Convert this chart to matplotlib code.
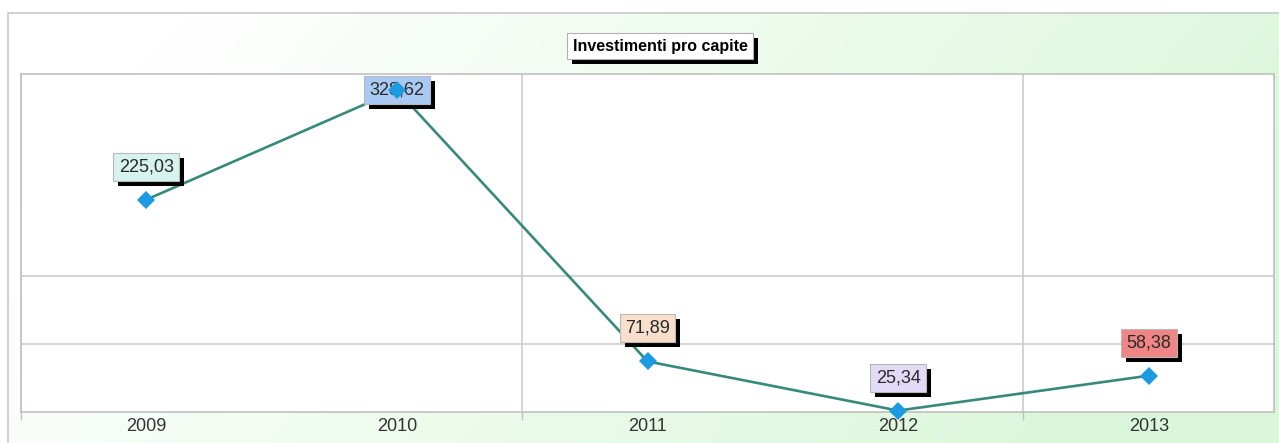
import matplotlib
matplotlib.use("Agg")
import matplotlib.pyplot as plt
import matplotlib.patheffects as pe
import numpy as np

plt.rcParams['font.family'] = ['Liberation Sans', 'DejaVu Sans']

# Data
years = ["2009", "2010", "2011", "2012", "2013"]
values = [225.03, 328.62, 71.89, 25.34, 58.38]
value_labels = ["225,03", "328,62", "71,89", "25,34", "58,38"]
label_colors = ["#d6f3ef", "#a9c9f2", "#f7dfcc", "#e1dbf7", "#f08585"]
title = "Investimenti pro capite"

W, H = 1279, 443
fig = plt.figure(figsize=(W / 100, H / 100), dpi=100)
fig.patch.set_facecolor("white")

# background panel with soft white -> green gradient
bg = fig.add_axes([0, 0, 1, 1], zorder=-5)
bg.set_xlim(0, W)
bg.set_ylim(H, 0)
bg.axis("off")
gx = np.linspace(0, 1, 300)
gy = np.linspace(0, 1, 120)
GX, GY = np.meshgrid(gx, gy)
t = np.clip(1.05 * GX + 0.3 * GY - 0.15, 0, 1)
white = np.array([1.0, 1.0, 1.0])
green = np.array([0.86, 0.97, 0.86])
img = white[None, None, :] * (1 - t[..., None]) + green[None, None, :] * t[..., None]
bg.imshow(img, extent=[8, W, H, 13], aspect="auto", interpolation="bilinear")
bg.plot([8, 8, W], [H, 13, 13], color="#c8c8c8", lw=1.2)

# plot area
ax = fig.add_axes([21 / W, 31 / H, 1253 / W, 338 / H])
ax.set_facecolor("white")
x = np.arange(len(years))
ax.set_xlim(-0.5, len(years) - 0.5)
ax.set_ylim(24, 344)

ax.set_xticks(x)
ax.set_xticklabels(years, fontsize=13, color="#333333")
ax.set_xticks([-0.5, 1.5, 3.5], minor=True)
ax.tick_params(axis="x", which="major", length=0, pad=4)
ax.tick_params(axis="x", which="minor", length=6, direction="out", color="#c0c0c0", width=1)
ax.set_yticks([88.5, 153])
ax.tick_params(axis="y", length=0, labelleft=False)
ax.grid(True, axis="y", which="major", color="#cccccc", lw=1.2)
ax.grid(True, axis="x", which="minor", color="#cccccc", lw=1.2)
for s in ax.spines.values():
    s.set_color("#c0c0c0")
    s.set_linewidth(1.2)
ax.set_axisbelow(True)

ax.plot(x, values, color="#358a7c", lw=1.9, zorder=2)
ax.plot(x, values, linestyle="none", marker="D", markersize=9, color="#1c9be3",
        markeredgewidth=0, zorder=6, clip_on=False)

shadow = [pe.SimplePatchShadow(offset=(3.6, -3.6), shadow_rgbFace="black", alpha=1.0),
          pe.Normal()]

# value labels with drop shadow, kept inside the plot area
fig.canvas.draw()
top_px = ax.transAxes.transform((0, 1))[1]
for xi, v, lab, col in zip(x, values, value_labels, label_colors):
    py = ax.transData.transform((xi, v))[1]
    dy = min(33, top_px - 16 - py)
    txt = ax.annotate(lab, (xi, v), xytext=(0, dy), textcoords="offset pixels",
                      ha="center", va="center", fontsize=13, color="#2a2a2a", zorder=4,
                      bbox=dict(boxstyle="square,pad=0.3", fc=col, ec="#b8b8b8", lw=0.8))
    txt.get_bbox_patch().set_path_effects(shadow)

# title box with shadow
tt = fig.text(660 / W, 1 - 46 / H, title, ha="center", va="center", fontsize=11.5,
              fontweight="bold", color="black",
              bbox=dict(boxstyle="square,pad=0.35", fc="white", ec="#b0b0b0", lw=0.8))
tt.get_bbox_patch().set_path_effects(shadow)

fig.savefig("out.png", dpi=100)
